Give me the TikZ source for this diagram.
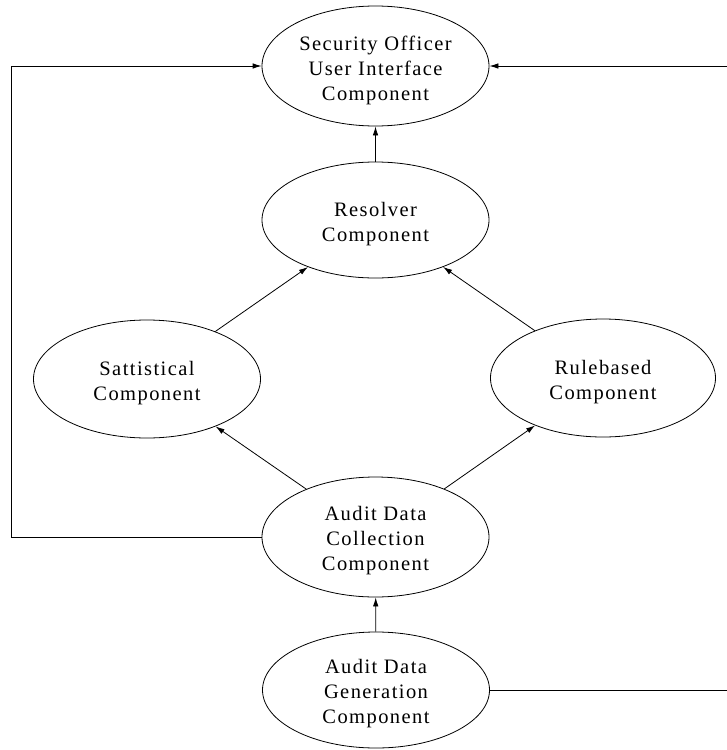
\documentclass[tikz,border=0pt]{standalone}
\usepackage{fontspec}
\setmainfont{Liberation Serif}[LetterSpace=7]
\usetikzlibrary{shapes.geometric,arrows.meta}
\begin{document}
\begin{tikzpicture}[x=1pt,y=-1pt,
  comp/.style={draw,ellipse,line width=0.8pt,inner sep=0pt,minimum width=227pt,minimum height=118pt},
  txt/.style={align=center,inner sep=0pt,yshift=-4pt,font=\fontsize{20.5}{25}\selectfont},
  arr/.style={line width=0.8pt,-{Latex[length=9pt,width=5.5pt]}}]
\useasboundingbox (0,0) rectangle (727,750);
\node[comp,minimum height=120pt,label={[txt]center:Security Officer\\User Interface\\Component}] (sec) at (375.5,66) {};
\node[comp,minimum height=116pt,label={[txt]center:Resolver\\Component}] (res) at (375.5,220) {};
\node[comp,label={[txt]center:Sattistical\\Component}] (sta) at (147,379) {};
\node[comp,minimum width=225pt,label={[txt]center:Rulebased\\Component}] (rul) at (603,378) {};
\node[comp,minimum height=120pt,label={[txt]center:Audit Data\\Collection\\Component}] (col) at (375.5,537) {};
\node[comp,minimum height=116pt,label={[txt]center:Audit Data\\Generation\\Component}] (gen) at (376,690) {};
\coordinate (L) at (11,0);
\coordinate (R) at (731,0);
\draw[arr] (res) -- (sec);
\draw[arr] (sta) -- (res);
\draw[arr] (rul) -- (res);
\draw[arr] (col) -- (sta);
\draw[arr] (col) -- (rul);
\draw[arr] (gen) -- (col);
\draw[arr] (col.west) -- (col.west -| L) -- (sec.west -| L) -- (sec.west);
\draw[arr] (gen.east) -- (gen.east -| R) -- (sec.east -| R) -- (sec.east);
\end{tikzpicture}
\end{document}
